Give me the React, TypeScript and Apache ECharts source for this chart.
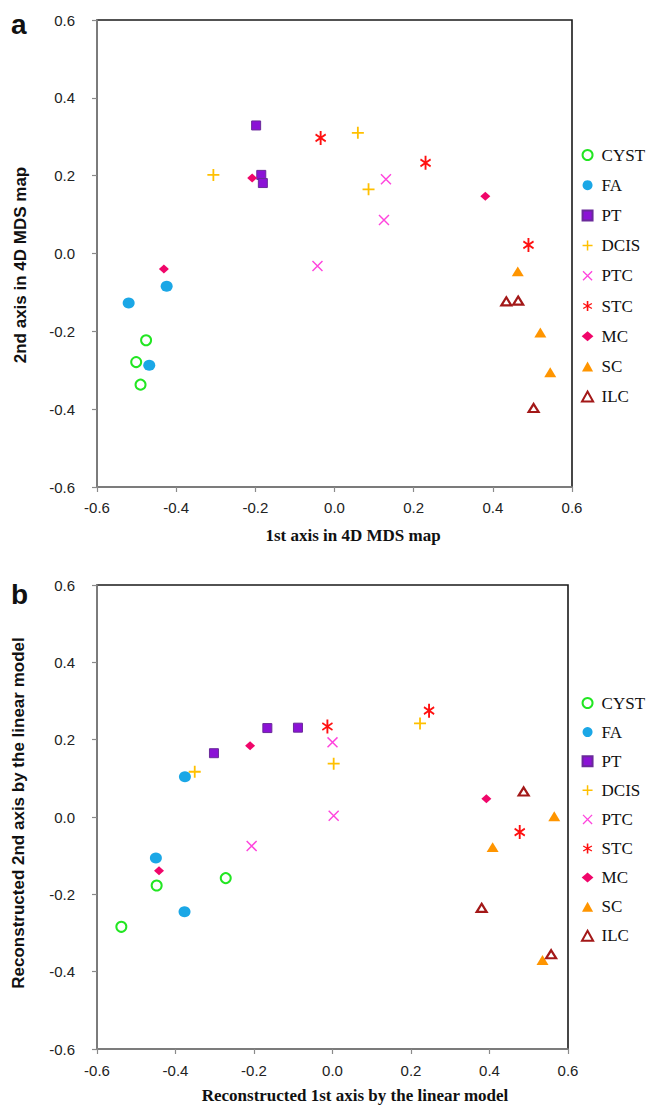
import React, { useEffect, useRef } from "react";
import * as echarts from "echarts";

// ---- Data ----
const CATEGORIES = ["CYST", "FA", "PT", "DCIS", "PTC", "STC", "MC", "SC", "ILC"];
const TICKS = [-0.6, -0.4, -0.2, 0.0, 0.2, 0.4, 0.6];

// Panel a: 4D MDS map (1st axis, 2nd axis)
const A_CYST = [[-0.476, -0.223], [-0.501, -0.279], [-0.490, -0.337]];
const A_FA = [[-0.424, -0.084], [-0.520, -0.127], [-0.468, -0.287]];
const A_PT = [[-0.198, 0.329], [-0.185, 0.202], [-0.181, 0.181]];
const A_DCIS = [[-0.306, 0.202], [0.059, 0.310], [0.086, 0.165]];
const A_PTC = [[0.130, 0.191], [0.125, 0.086], [-0.043, -0.032]];
const A_STC = [[-0.035, 0.297], [0.230, 0.233], [0.490, 0.022]];
const A_MC = [[-0.208, 0.194], [0.381, 0.147], [-0.431, -0.040]];
const A_SC = [[0.463, -0.046], [0.520, -0.203], [0.545, -0.305]];
const A_ILC = [[0.434, -0.123], [0.464, -0.121], [0.503, -0.397]];

// Panel b: reconstructed by the linear model
const B_CYST = [[-0.272, -0.158], [-0.448, -0.177], [-0.538, -0.284]];
const B_FA = [[-0.376, 0.104], [-0.450, -0.106], [-0.377, -0.245]];
const B_PT = [[-0.302, 0.165], [-0.166, 0.230], [-0.088, 0.231]];
const B_DCIS = [[-0.351, 0.117], [0.003, 0.138], [0.223, 0.242]];
const B_PTC = [[0.000, 0.193], [0.003, 0.003], [-0.206, -0.075]];
const B_STC = [[-0.013, 0.234], [0.246, 0.275], [0.477, -0.039]];
const B_MC = [[-0.210, 0.184], [0.392, 0.047], [-0.442, -0.139]];
const B_SC = [[0.565, 0.002], [0.408, -0.078], [0.535, -0.370]];
const B_ILC = [[0.487, 0.066], [0.380, -0.235], [0.557, -0.355]];

const PANEL_A = [A_CYST, A_FA, A_PT, A_DCIS, A_PTC, A_STC, A_MC, A_SC, A_ILC];
const PANEL_B = [B_CYST, B_FA, B_PT, B_DCIS, B_PTC, B_STC, B_MC, B_SC, B_ILC];

// ---- Marker shapes ----
const PLUS =
  "path://M8.5,0 L11.5,0 L11.5,8.5 L20,8.5 L20,11.5 L11.5,11.5 L11.5,20 L8.5,20 L8.5,11.5 L0,11.5 L0,8.5 L8.5,8.5 Z";
const CROSS =
  "path://M0.08,1.92 L1.92,0.08 L19.92,18.08 L18.08,19.92 Z M0.08,18.08 L18.08,0.08 L19.92,1.92 L1.92,19.92 Z";
const STAR =
  "path://M8.4,20 L8.4,0 L11.6,0 L11.6,20 Z M17.96,16.21 L0.64,6.21 L2.04,3.79 L19.36,13.79 Z M0.64,13.79 L17.96,3.79 L19.36,6.21 L2.04,16.21 Z";
const SQUARE = "path://M0,0 L20,0 L20,20 L0,20 Z";
const DIAMOND = "path://M10,0 L20,8.5 L10,17 L0,8.5 Z";
const TRIANGLE = "path://M10,0 L20,18 L0,18 Z";

const STYLES: Record<string, any> = {
  CYST: { symbol: "emptyCircle", size: 10, color: "#22e622", border: "#22e622", bw: 2.2 },
  FA: { symbol: "circle", size: [12, 11], color: "#1ba7e6", border: "#1ba7e6", bw: 0 },
  PT: { symbol: SQUARE, size: 9, color: "#8b12d6", border: "#6a2a9a", bw: 1 },
  DCIS: { symbol: PLUS, size: 12, color: "#ffc000", border: "#ffc000", bw: 0 },
  PTC: { symbol: CROSS, size: 11, color: "#ff44dd", border: "#ff44dd", bw: 0 },
  STC: { symbol: STAR, size: [11, 14], color: "#ff1010", border: "#ff1010", bw: 0 },
  MC: { symbol: DIAMOND, size: [10, 9], color: "#f0066a", border: "#f0066a", bw: 0 },
  SC: { symbol: TRIANGLE, size: [12, 11], color: "#ff9500", border: "#ff9500", bw: 0 },
  ILC: { symbol: TRIANGLE, size: [10, 9], color: "#ffffff", border: "#a31818", bw: 2.2 },
};

const fmt = (v: number) => (Math.abs(v) < 1e-9 ? 0 : v).toFixed(1);

function axisCommon(gridIndex: number, margin: number) {
  return {
    type: "value",
    gridIndex,
    min: TICKS[0],
    max: TICKS[TICKS.length - 1],
    interval: 0.2,
    axisLine: { show: true, onZero: false, lineStyle: { color: "#8a8a8a", width: 1.6 } },
    axisTick: { show: true, inside: false, length: 5, lineStyle: { color: "#8a8a8a", width: 1.2 } },
    splitLine: { show: false },
    axisLabel: {
      formatter: fmt,
      fontFamily: "Liberation Sans, Arial, sans-serif",
      fontSize: 15,
      color: "#222",
      margin,
    },
  };
}

function makeSeries(data: number[][][], gridIndex: number) {
  return CATEGORIES.map((name, i) => {
    const s = STYLES[name];
    return {
      name,
      type: "scatter",
      xAxisIndex: gridIndex,
      yAxisIndex: gridIndex,
      data: data[i],
      symbol: s.symbol,
      symbolSize: s.size,
      symbolKeepAspect: name !== "STC" && name !== "MC",
      itemStyle: { color: s.color, borderColor: s.border, borderWidth: s.bw, opacity: 1 },
      emphasis: { disabled: true },
      z: 3,
    };
  });
}

function legendAt(top: number, gap: number) {
  return {
    orient: "vertical",
    left: 576,
    top,
    itemWidth: 18,
    itemHeight: 10,
    itemGap: gap,
    selectedMode: false,
    symbolKeepAspect: true,
    data: CATEGORIES,
    textStyle: {
      fontFamily: "Liberation Serif, Times New Roman, serif",
      fontSize: 17,
      lineHeight: 18,
      color: "#111",
    },
  };
}

export default function App() {
  const ref = useRef<HTMLDivElement>(null);

  useEffect(() => {
    document.body.style.margin = "0";
    if (!ref.current) return;
    const chart = echarts.init(ref.current, null, { renderer: "svg" });

    const sans = "Liberation Sans, Arial, sans-serif";
    const serif = "Liberation Serif, Times New Roman, serif";

    const option: any = {
      animation: false,
      backgroundColor: "#ffffff",
      grid: [
        { left: 97, top: 20, width: 475, height: 467, show: true, borderColor: "#1a1a1a", borderWidth: 1.6, backgroundColor: "transparent" },
        { left: 97, top: 585, width: 471, height: 464, show: true, borderColor: "#1a1a1a", borderWidth: 1.6, backgroundColor: "transparent" },
      ],
      xAxis: [
        { ...axisCommon(0, 13), position: "bottom" },
        { ...axisCommon(1, 14), position: "bottom" },
      ],
      yAxis: [
        { ...axisCommon(0, 22), position: "left" },
        { ...axisCommon(1, 22), position: "left" },
      ],
      legend: [legendAt(141, 12.2), legendAt(689, 11.1)],
      series: [...makeSeries(PANEL_A, 0), ...makeSeries(PANEL_B, 1)],
      graphic: [
        { type: "text", x: 11, y: 24, style: { text: "a", font: `bold 28px ${sans}`, fill: "#111", align: "left", verticalAlign: "middle" } },
        { type: "text", x: 11, y: 594, style: { text: "b", font: `bold 28px ${sans}`, fill: "#111", align: "left", verticalAlign: "middle" } },
        { type: "text", x: 353, y: 535, style: { text: "1st axis in 4D MDS map", font: `bold 17px ${serif}`, fill: "#111", align: "center", verticalAlign: "middle" } },
        { type: "text", x: 355, y: 1095, style: { text: "Reconstructed 1st axis by the linear model", font: `bold 17px ${serif}`, fill: "#111", align: "center", verticalAlign: "middle" } },
        { type: "text", x: 20, y: 265, rotation: Math.PI / 2, style: { text: "2nd axis in 4D MDS map", font: `bold 17px ${sans}`, fill: "#111", align: "center", verticalAlign: "middle" } },
        { type: "text", x: 18, y: 813, rotation: Math.PI / 2, style: { text: "Reconstructed 2nd axis by the linear model", font: `bold 17px ${sans}`, fill: "#111", align: "center", verticalAlign: "middle" } },
      ],
    };
    chart.setOption(option);
    return () => chart.dispose();
  }, []);

  return <div ref={ref} style={{ width: 650, height: 1106 }} />;
}
